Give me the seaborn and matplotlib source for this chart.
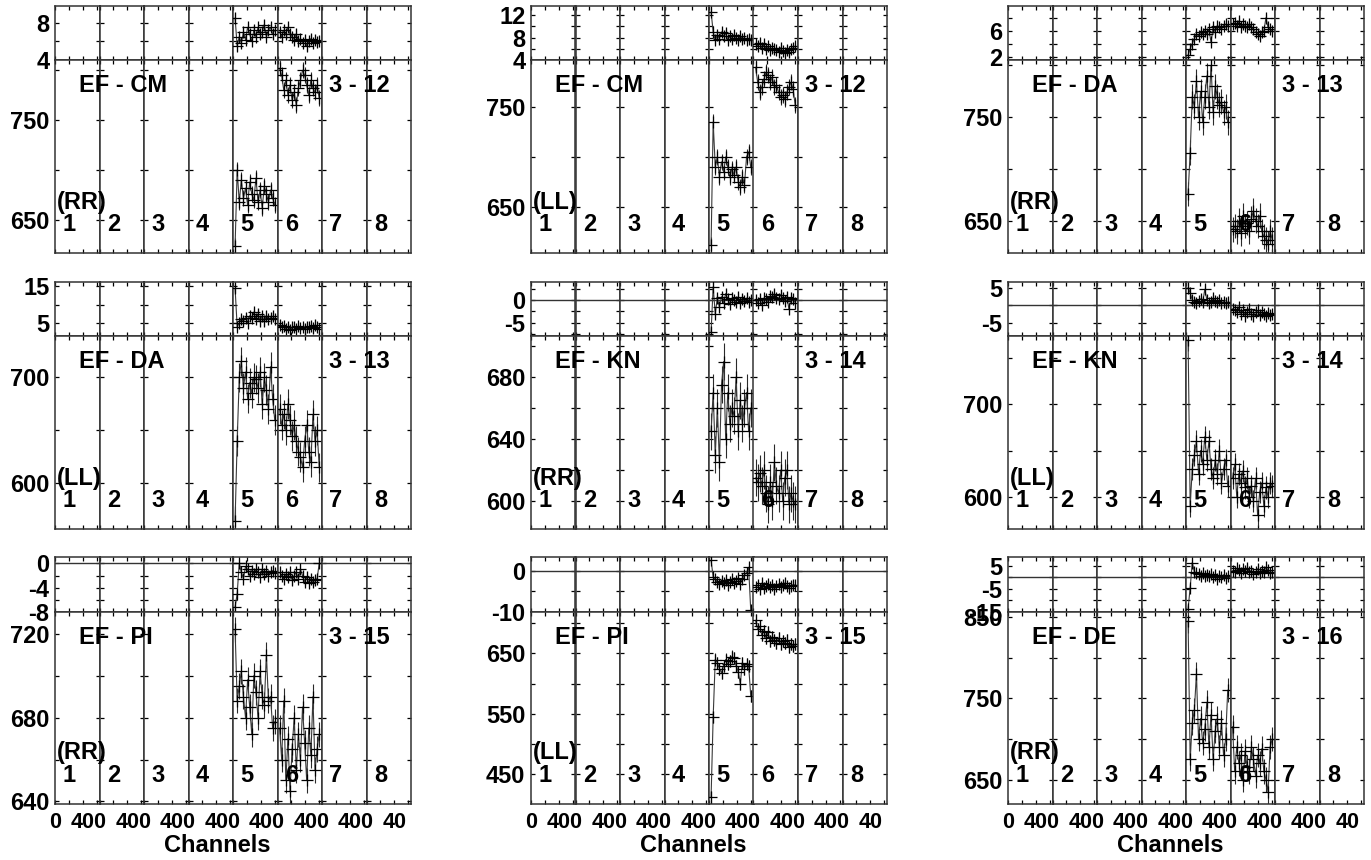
import matplotlib
matplotlib.use("Agg")
import matplotlib.pyplot as plt
import seaborn as sns

# ---------------- data ----------------
channels = [3, 6, 9, 12, 15, 18, 21, 24, 27, 30, 33, 36, 39, 42, 45, 48, 51, 54, 57, 60]
if_labels = ["1", "2", "3", "4", "5", "6", "7", "8"]
x_tick_vals = [0, 20, 40, 60]
x_tick_text = ["0", "", "40", ""]

baselines = ["EF - CM", "EF - CM", "EF - DA", "EF - DA", "EF - KN", "EF - KN", "EF - PI", "EF - PI", "EF - DE"]
pols = ["(RR)", "(LL)", "(RR)", "(LL)", "(RR)", "(LL)", "(RR)", "(LL)", "(RR)"]
sources = ["3 - 12", "3 - 12", "3 - 13", "3 - 13", "3 - 14", "3 - 14", "3 - 15", "3 - 15", "3 - 16"]

p1_amp5 = [624, 700, 668, 690, 672, 682, 665, 688, 676, 670, 692, 668, 680, 662, 684, 676, 668, 680, 672, 665]
p1_amp6 = [802, 795, 780, 790, 775, 785, 770, 778, 765, 782, 790, 800, 795, 785, 775, 790, 782, 778, 785, 772]
p1_phs5 = [8.5, 5.5, 6.5, 5.8, 7.0, 6.2, 7.5, 6.8, 6.0, 7.2, 6.5, 7.5, 6.8, 7.0, 7.8, 6.5, 7.2, 7.5, 6.8, 7.2]
p1_phs6 = [7.0, 6.5, 7.2, 6.8, 7.5, 6.8, 6.5, 6.2, 6.8, 6.0, 6.3, 5.8, 6.2, 5.5, 6.0, 6.3, 5.8, 6.2, 5.9, 6.1]

p2_amp5 = [612, 735, 690, 700, 680, 695, 685, 700, 690, 680, 688, 682, 690, 675, 670, 680, 672, 700, 705, 690]
p2_amp6 = [790, 775, 765, 770, 778, 785, 782, 775, 780, 770, 772, 765, 760, 762, 758, 765, 770, 775, 768, 752]
p2_phs5 = [12.5, 9.0, 7.5, 8.5, 7.8, 9.0, 8.2, 8.8, 7.5, 8.3, 7.8, 8.5, 8.0, 7.6, 8.2, 7.8, 8.0, 7.5, 7.8, 7.6]
p2_phs6 = [6.8, 6.5, 7.0, 6.2, 6.8, 6.0, 6.5, 5.8, 6.2, 6.0, 5.8, 5.5, 6.2, 5.6, 5.2, 5.8, 5.5, 6.0, 6.2, 6.5]

p3_amp5 = [676, 716, 770, 760, 785, 750, 775, 745, 770, 790, 760, 800, 755, 780, 770, 762, 765, 755, 760, 745]
p3_amp6 = [642, 645, 640, 650, 638, 655, 645, 648, 640, 652, 660, 650, 645, 655, 640, 635, 632, 628, 640, 632]
p3_phs5 = [2.3, 3.2, 4.0, 4.8, 5.5, 5.2, 5.8, 5.5, 6.0, 5.5, 6.2, 4.2, 6.5, 5.8, 6.8, 6.5, 6.2, 6.8, 7.0, 6.8]
p3_phs6 = [7.0, 7.2, 6.8, 7.5, 6.5, 7.0, 6.8, 6.5, 7.0, 6.6, 6.2, 5.8, 5.5, 5.2, 5.8, 6.0, 8.0, 6.5, 6.2, 6.0]

p4_amp5 = [565, 640, 700, 715, 690, 705, 680, 695, 685, 700, 698, 690, 705, 675, 700, 688, 670, 710, 680, 660]
p4_amp6 = [670, 655, 665, 650, 675, 660, 645, 655, 640, 630, 625, 615, 640, 655, 630, 620, 665, 640, 650, 615]
p4_phs5 = [14.5, 4.0, 5.0, 6.0, 5.5, 6.5, 5.0, 7.0, 6.5, 8.0, 6.0, 7.5, 5.5, 6.8, 5.5, 7.0, 6.0, 6.5, 6.8, 6.2]
p4_phs6 = [4.5, 3.8, 4.2, 3.5, 4.0, 3.2, 3.8, 4.0, 3.5, 4.2, 3.6, 3.9, 3.4, 4.0, 3.8, 4.2, 3.6, 4.5, 3.8, 3.5]

p5_amp5 = [645, 670, 630, 660, 625, 675, 690, 640, 670, 650, 660, 655, 680, 645, 665, 650, 660, 670, 645, 660]
p5_amp6 = [615, 612, 618, 610, 620, 605, 598, 612, 600, 625, 610, 605, 620, 600, 615, 620, 598, 605, 600, 598]
p5_phs5 = [-7.0, 3.0, -3.0, 0.5, -1.5, 0.8, -0.5, 1.5, 0.2, -0.8, 0.5, 0.0, -0.3, 0.8, -0.5, 0.3, -0.2, 0.5, -0.4, 0.1]
p5_phs6 = [0.0, -0.5, 0.3, -1.0, 0.5, 0.2, -0.3, 1.0, 0.8, 1.5, 0.5, 0.3, 1.2, 0.6, -0.2, 0.8, -2.0, 0.5, 0.2, -0.5]

p6_amp5 = [770, 590, 630, 645, 660, 625, 650, 635, 665, 640, 660, 630, 620, 640, 625, 650, 615, 630, 640, 612]
p6_amp6 = [620, 635, 600, 625, 615, 628, 610, 620, 600, 612, 595, 620, 580, 605, 615, 590, 610, 600, 615, 612]
p6_phs5 = [5.0, 3.5, 1.5, 1.0, 0.5, 1.2, 1.8, 0.8, 4.5, 1.5, 0.5, 1.0, 2.0, 1.2, 0.8, 1.5, 0.6, 1.0, 0.5, 0.8]
p6_phs6 = [-1.0, -1.5, -2.0, -0.5, -2.5, -1.5, -3.0, -2.0, -1.0, -2.5, -3.2, -2.0, -1.5, -2.8, -2.0, -2.5, -3.0, -2.2, -2.8, -2.5]

p7_amp5 = [722, 688, 695, 702, 690, 680, 698, 685, 672, 700, 692, 680, 702, 690, 686, 710, 688, 690, 675, 678]
p7_amp6 = [675, 660, 688, 650, 670, 645, 665, 680, 655, 672, 660, 685, 668, 650, 675, 662, 690, 655, 665, 672]
p7_phs5 = [-7.2, -5.0, 0.0, -1.5, -2.5, -0.5, -1.0, -2.0, -1.2, -1.8, -1.0, -1.5, -2.2, -1.0, -1.8, -1.3, -2.0, -1.5, -1.2, -1.6]
p7_phs6 = [-1.5, -2.0, -2.5, -1.8, -2.2, -1.5, -2.8, -2.0, -1.5, -2.5, -1.0, -2.0, -3.0, -2.2, -3.2, -2.5, -3.0, -2.8, -2.5, 0.0]

p8_amp5 = [412, 545, 640, 635, 625, 618, 630, 640, 632, 638, 645, 642, 630, 620, 600, 635, 625, 632, 630, 580]
p8_amp6 = [705, 690, 695, 680, 688, 675, 685, 670, 678, 672, 668, 675, 665, 670, 668, 672, 660, 666, 662, 665]
p8_phs5 = [2.5, -1.5, -2.0, -2.8, -3.2, -2.5, -3.0, -2.2, -3.5, -2.8, -2.0, -3.0, -2.5, -1.8, -3.2, -2.0, -1.0, -0.5, 0.8, -9.5]
p8_phs6 = [-4.0, -3.5, -4.5, -3.0, -4.2, -3.8, -3.2, -4.0, -3.5, -4.5, -3.8, -3.2, -4.0, -3.5, -3.0, -3.8, -4.2, -3.6, -3.4, -3.5]

p9_amp5 = [845, 675, 720, 735, 780, 700, 725, 695, 712, 745, 690, 730, 675, 710, 725, 690, 720, 680, 700, 760]
p9_amp6 = [715, 660, 690, 670, 680, 650, 685, 665, 660, 690, 675, 655, 680, 670, 688, 660, 650, 635, 690, 700]
p9_phs5 = [-13.5, -4.5, 6.5, 2.5, 2.0, 1.5, 0.8, 1.8, 0.5, 1.2, 0.8, 1.5, 0.3, 1.0, -0.5, 0.8, 0.2, 1.2, -0.3, 0.5]
p9_phs6 = [3.0, 2.5, 4.0, 3.2, 2.0, 3.5, 2.8, 4.2, 2.5, 3.0, 1.5, 2.2, 3.8, 2.0, 3.0, 2.5, 4.5, 3.2, 1.8, 2.5]

# error bar half-lengths per panel (amplitude, phase)
amp_err = [8, 8, 12, 14, 12, 12, 6, 10, 15]
phs_err = [0.5, 0.7, 0.6, 1.2, 1.0, 1.2, 0.7, 1.0, 1.5]

amp_data = [(p1_amp5, p1_amp6), (p2_amp5, p2_amp6), (p3_amp5, p3_amp6),
            (p4_amp5, p4_amp6), (p5_amp5, p5_amp6), (p6_amp5, p6_amp6),
            (p7_amp5, p7_amp6), (p8_amp5, p8_amp6), (p9_amp5, p9_amp6)]
phs_data = [(p1_phs5, p1_phs6), (p2_phs5, p2_phs6), (p3_phs5, p3_phs6),
            (p4_phs5, p4_phs6), (p5_phs5, p5_phs6), (p6_phs5, p6_phs6),
            (p7_phs5, p7_phs6), (p8_phs5, p8_phs6), (p9_phs5, p9_phs6)]
data_if_index = [4, 5]  # IF 5 and IF 6 hold data

# axis ranges / ticks
amp_ylim = [(617, 810), (603.5, 797), (619, 805), (557, 739), (582, 706.5),
            (565, 774), (638.8, 730.3), (400.4, 718.8), (620, 856)]
amp_ticks = [[650, 700, 750, 800], [650, 700, 750], [650, 700, 750, 800], [600, 650, 700],
             [600, 620, 640, 660, 680, 700], [600, 650, 700, 750], [640, 660, 680, 700, 720],
             [450, 500, 550, 600, 650, 700], [650, 700, 750, 800, 850]]
amp_tick_labeled = [[650, 750], [650, 750], [650, 750], [600, 700], [600, 640, 680],
                    [600, 700], [640, 680, 720], [450, 550, 650], [650, 750, 850]]
phs_ylim = [(4, 9.8), (4, 13.6), (1.45, 9.85), (1.46, 16.2), (-8, 4.1),
            (-8.8, 6.6), (-8, 1.05), (-10, 3.3), (-15, 8.9)]
phs_ticks = [[4, 6, 8], [4, 6, 8, 10, 12], [2, 4, 6, 8], [5, 10, 15], [-7.5, -5, -2.5, 0, 2.5],
             [-5, 0, 5], [-8, -6, -4, -2, 0], [-10, -5, 0], [-15, -10, -5, 0, 5]]
phs_tick_labeled = [[4, 8], [4, 8, 12], [2, 6], [5, 15], [-5, 0], [-5, 5],
                    [-8, -4, 0], [-10, 0], [-15, -5, 5]]

# ---------------- style ----------------
sns.set_theme(style="ticks")
plt.rcParams["font.family"] = ["Liberation Sans", "DejaVu Sans"]
plt.rcParams["font.weight"] = "bold"
plt.rcParams["axes.labelweight"] = "bold"

W, H = 1371, 860
fig = plt.figure(figsize=(W / 100, H / 100), dpi=100)

col_left = [55, 531, 1008]
col_w = 356
if_w = col_w / 8
rows = [(5.7, 60.3, 253), (282, 336, 529), (557, 612, 804)]  # phase top, boundary, amp bottom
FS = 17
XFS = 15.5
INK = "black"
LINE = "#2a2a2a"
SPINE = "#333333"


def fig_rect(x0, y_top, w, h):
    return [x0 / W, 1 - (y_top + h) / H, w / W, h / H]


def style_ax(ax, ylim, ticks, labeled, show_ylabels, show_xlabels):
    ax.set_xlim(0, 64)
    ax.set_ylim(*ylim)
    ax.set_xticks(x_tick_vals)
    ax.set_yticks(ticks)
    ax.set_facecolor("white")
    ax.set_yticklabels([(f"{t:g}" if t in labeled else "") for t in ticks])
    ax.set_xticklabels(x_tick_text)
    ax.tick_params(axis="both", direction="in", length=3, width=0.9, color=INK,
                   labelcolor=INK, top=True, right=True)
    ax.tick_params(axis="y", pad=4, labelleft=show_ylabels, labelsize=FS)
    ax.tick_params(axis="x", pad=6, labelbottom=show_xlabels, labelsize=XFS)
    for s in ax.spines.values():
        s.set_color(SPINE)
        s.set_linewidth(1.1)
    ax.set_xlabel("")
    ax.set_ylabel("")


def draw_series(ax, vals, err):
    ax.errorbar(channels, vals, yerr=err, fmt="none", ecolor=LINE, elinewidth=0.8, capsize=0, zorder=2)
    sns.lineplot(x=channels, y=vals, ax=ax, color="#3a3a3a", linewidth=0.8,
                 marker="+", markersize=8, markeredgecolor=INK, markeredgewidth=0.9,
                 estimator=None, sort=False, legend=False, zorder=3)
    ax.set_xlabel("")
    ax.set_ylabel("")


for p in range(9):
    r, c = divmod(p, 3)
    L = col_left[c]
    ph_top, mid, am_bot = rows[r]
    for k in range(8):
        x0 = L + k * if_w
        ax_ph = fig.add_axes(fig_rect(x0, ph_top, if_w, mid - ph_top))
        ax_am = fig.add_axes(fig_rect(x0, mid, if_w, am_bot - mid))
        if k in data_if_index:
            j = data_if_index.index(k)
            draw_series(ax_ph, phs_data[p][j], phs_err[p])
            draw_series(ax_am, amp_data[p][j], amp_err[p])
        style_ax(ax_ph, phs_ylim[p], phs_ticks[p], phs_tick_labeled[p], k == 0, False)
        style_ax(ax_am, amp_ylim[p], amp_ticks[p], amp_tick_labeled[p], k == 0, r == 2)
        if phs_ylim[p][0] < 0 < phs_ylim[p][1]:
            ax_ph.axhline(0, color=SPINE, lw=1.0, zorder=1)
        ax_am.text(20, 0.15, if_labels[k], transform=ax_am.get_xaxis_transform(),
                   ha="center", va="center", fontsize=FS, fontweight="bold", color=INK)
    # panel annotations
    fig.text((L + 24) / W, 1 - (mid + 25) / H, baselines[p], ha="left", va="center",
             fontsize=FS, fontweight="bold", color=INK)
    fig.text((L + 335) / W, 1 - (mid + 25) / H, sources[p], ha="right", va="center",
             fontsize=FS, fontweight="bold", color=INK)
    fig.text((L + 1.5) / W, 1 - (am_bot - 51) / H, pols[p], ha="left", va="center",
             fontsize=FS, fontweight="bold", color=INK)
    if r == 2:
        fig.text((L + 162) / W, 1 - 846 / H, "Channels", ha="center", va="center",
                 fontsize=FS, fontweight="bold", color=INK)

fig.savefig("out.png", dpi=100)
